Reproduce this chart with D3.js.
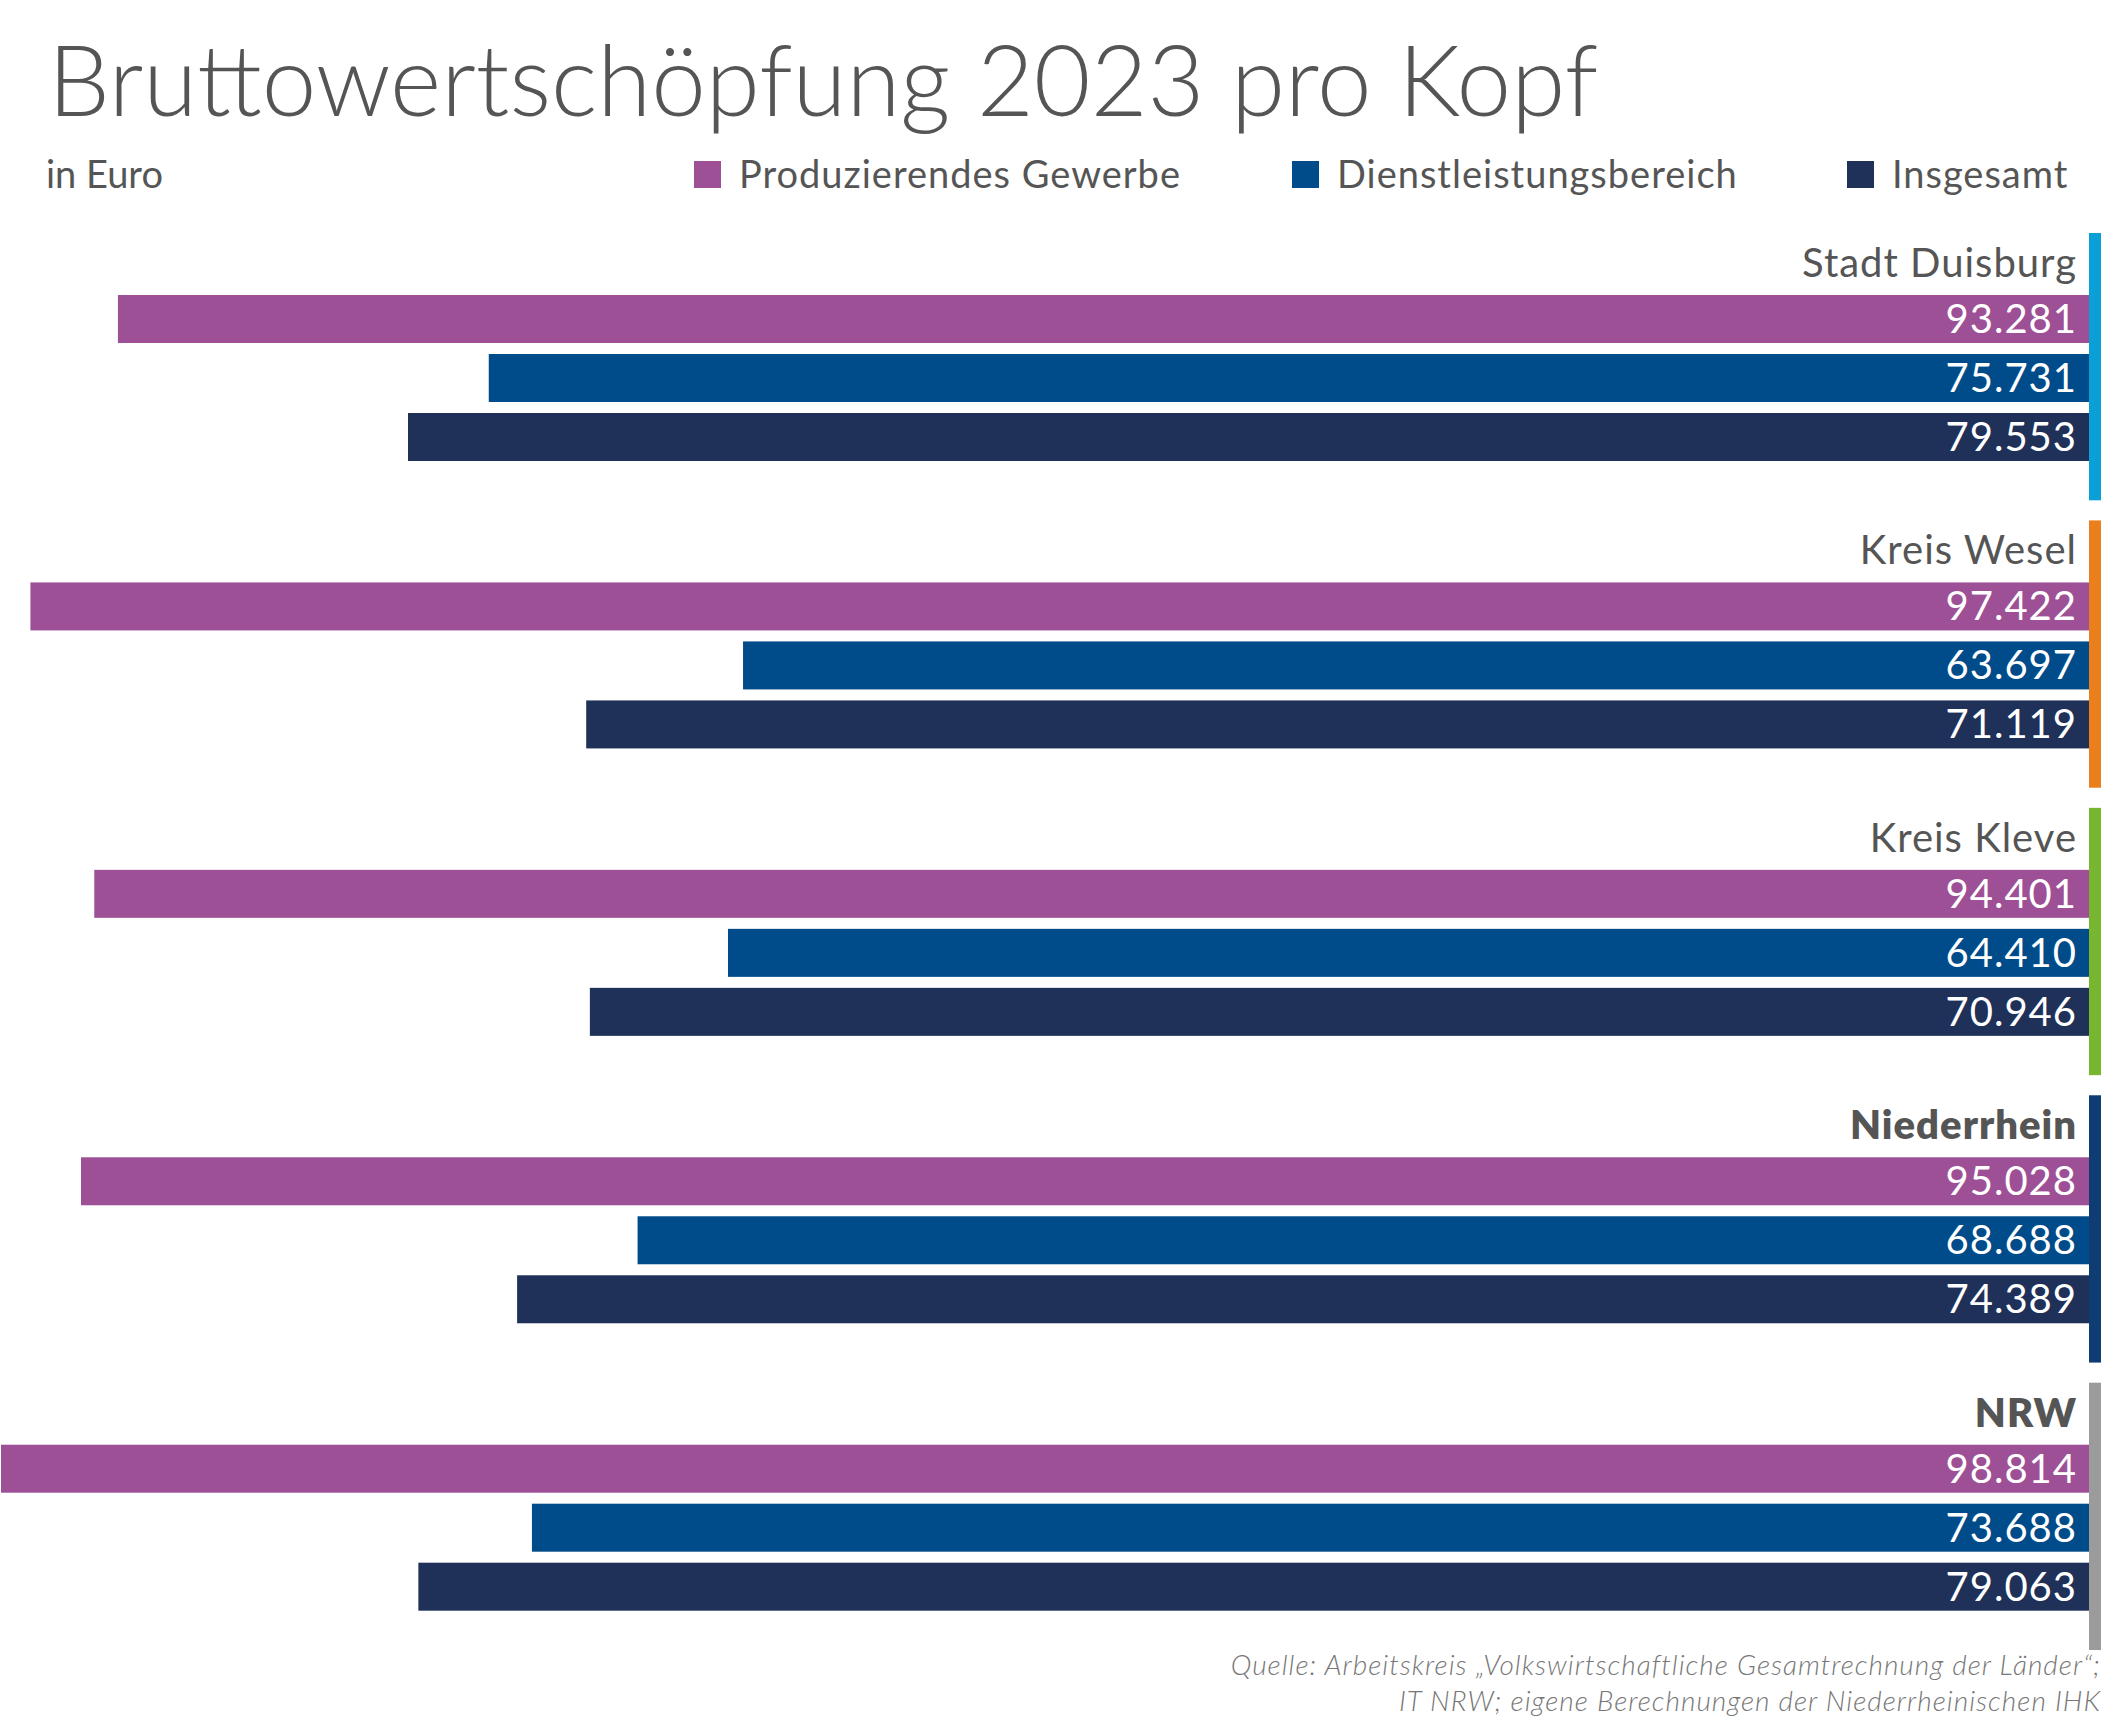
<!DOCTYPE html><html><head><meta charset="utf-8"><script src="https://cdn.jsdelivr.net/npm/d3@7"></script>
<style>body{margin:0;background:#fff}</style></head><body><svg id="c" width="2101" height="1723"></svg><script>
const regions=["Stadt Duisburg","Kreis Wesel","Kreis Kleve","Niederrhein","NRW"];
const boldRegions=["Niederrhein","NRW"];
const accentColors=["#0b9fd8","#ea7f1c","#79b62f","#0f3d73","#9b9b9b"];
const seriesNames=["Produzierendes Gewerbe","Dienstleistungsbereich","Insgesamt"];
const seriesColors=["#9e5097","#004b89","#1f3059"];
const produzierend=[93281,97422,94401,95028,98814];
const dienst=[75731,63697,64410,68688,73688];
const insgesamt=[79553,71119,70946,74389,79063];
const series=[produzierend,dienst,insgesamt];
const fmt=v=>d3.format(",")(v).replace(/,/g,".");
const svg=d3.select("#c");const F="Lato, 'Open Sans', sans-serif";const T="#555";
svg.append("text").attr("x",48).attr("y",116).attr("font-family",F).attr("font-weight",300).attr("font-size",98).attr("fill",T).text("Bruttowertschöpfung 2023 pro Kopf");
svg.append("text").attr("x",46).attr("y",188).attr("font-family",F).attr("font-size",38).attr("fill",T).text("in Euro");
const lx=[694,1292,1847];
seriesNames.forEach((n,i)=>{svg.append("rect").attr("x",lx[i]).attr("y",161).attr("width",27).attr("height",27).attr("fill",seriesColors[i]);
svg.append("text").attr("x",lx[i]+45).attr("y",188).attr("font-family",F).attr("font-size",38).attr("fill",T).attr("letter-spacing",1).text(n);});
const right=2089;
const x=d3.scaleLinear().domain([0,98814]).range([right,1]);
const gy=d3.scaleBand().domain(regions).range([233,1650]).paddingInner(0.07).paddingOuter(0);
regions.forEach((r,ri)=>{const y0=gy(r);const g=svg.append("g");
g.append("rect").attr("x",right).attr("y",y0).attr("width",12).attr("height",gy.bandwidth()).attr("fill",accentColors[ri]);
g.append("text").attr("x",2077).attr("y",y0+44).attr("text-anchor","end").attr("font-family",F).attr("font-size",40).attr("font-weight",boldRegions.includes(r)?800:400).attr("fill",T).attr("letter-spacing",1).text(r);
series.forEach((s,si)=>{const by=y0+62+si*59;
g.append("rect").attr("x",x(s[ri])).attr("y",by).attr("width",right-x(s[ri])).attr("height",48).attr("fill",seriesColors[si]);
g.append("text").attr("x",2077).attr("y",by+38).attr("text-anchor","end").attr("font-family",F).attr("font-size",40).attr("fill","#fff").attr("letter-spacing",1).text(fmt(s[ri]));});});
[["Quelle: Arbeitskreis „Volkswirtschaftliche Gesamtrechnung der Länder“;",1675],["IT NRW; eigene Berechnungen der Niederrheinischen IHK",1711]].forEach(([t,y])=>svg.append("text").attr("x",2101).attr("y",y).attr("text-anchor","end").attr("font-family",F).attr("font-style","italic").attr("font-weight",300).attr("font-size",28).attr("fill","#777").attr("letter-spacing",1).text(t));
</script></body></html>
